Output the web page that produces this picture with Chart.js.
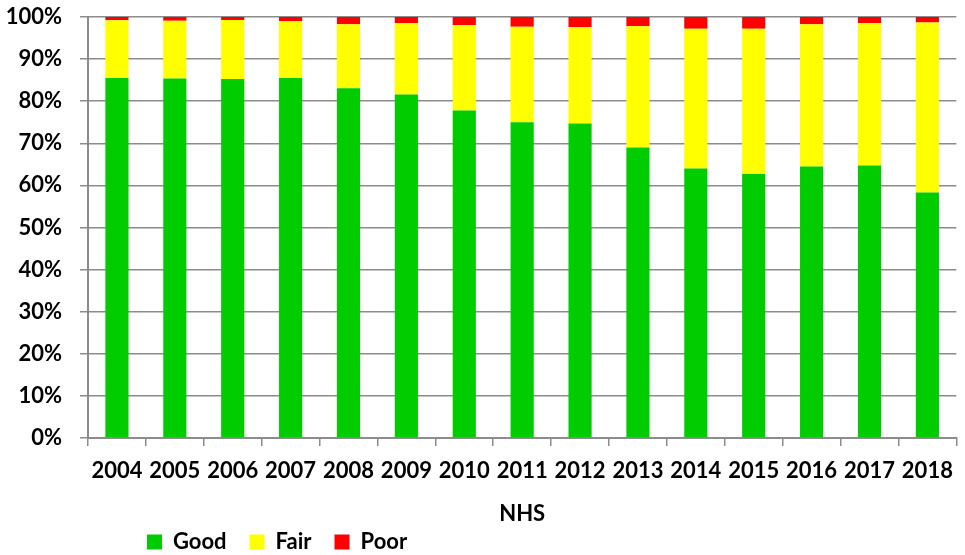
<!DOCTYPE html>
<html>
<head>
<meta charset="utf-8">
<script src="https://cdn.jsdelivr.net/npm/chart.js@4/dist/chart.umd.min.js"></script>
<style>
  html, body { margin: 0; padding: 0; background: #fff; }
  #wrap { width: 965px; height: 555px; }
</style>
</head>
<body>
<div id="wrap"><canvas id="nhsChart" width="965" height="555"></canvas></div>
<script>
// Condition shares per survey year (percent)
const years = ['2004', '2005', '2006', '2007', '2008', '2009', '2010', '2011', '2012', '2013', '2014', '2015', '2016', '2017', '2018'];
const good = [85.5, 85.4, 85.3, 85.5, 83.1, 81.6, 77.8, 75.0, 74.7, 69.0, 64.0, 62.7, 64.5, 64.7, 58.3];
const fair = [13.7, 13.7, 14.0, 13.5, 15.2, 16.9, 20.3, 22.7, 22.9, 28.8, 33.2, 34.5, 33.8, 33.9, 40.4];
const poor = [0.8, 0.9, 0.7, 1.0, 1.7, 1.5, 1.9, 2.3, 2.4, 2.2, 2.8, 2.8, 1.7, 1.4, 1.3];
const yTicks = [0, 10, 20, 30, 40, 50, 60, 70, 80, 90, 100];

const font = { family: 'Lato, "Open Sans", sans-serif', size: 22, weight: 'bold' };
const gridGray = '#8c8c8c';

// move legend to the left like the original
const legendShift = {
    id: 'legendShift',
    afterLayout(chart) {
        const lg = chart.legend;
        if (!lg) return;
        const w = lg.right - lg.left;
        lg.left = 124;
        lg.right = lg.left + w;
        const h = lg.bottom - lg.top;
        lg.top = 508;
        lg.bottom = lg.top + h;
    }
};

const ctx = document.getElementById('nhsChart').getContext('2d');
new Chart(ctx, {
    type: 'bar',
    data: {
        labels: years,
        datasets: [
            { label: 'Good', data: good, backgroundColor: '#00cc00', barPercentage: 0.8, categoryPercentage: 0.5 },
            { label: 'Fair', data: fair, backgroundColor: '#ffff00', barPercentage: 0.8, categoryPercentage: 0.5 },
            { label: 'Poor', data: poor, backgroundColor: '#ff0000', barPercentage: 0.8, categoryPercentage: 0.5 }
        ]
    },
    options: {
        responsive: false,
        animation: false,
        layout: { padding: { top: 17, right: 3, left: 0, bottom: 0 } },
        plugins: {
            tooltip: { enabled: false },
            legend: {
                position: 'bottom',
                align: 'start',
                labels: {
                    color: '#000',
                    font: font,
                    boxWidth: 15,
                    boxHeight: 15,
                    padding: 23
                }
            }
        },
        scales: {
            x: {
                stacked: true,
                grid: { display: true, drawOnChartArea: false, drawTicks: true, tickLength: 8, color: gridGray, lineWidth: 1.5, offset: true },
                border: { color: gridGray, width: 2 },
                ticks: { color: '#000', font: font, padding: 12, maxRotation: 0, autoSkip: false },
                title: { display: true, text: 'NHS', color: '#000', font: font, padding: { top: 0, bottom: -27 } },
                afterFit(scale) { scale.height = 62; }
            },
            y: {
                stacked: true,
                min: 0,
                max: 100,
                afterBuildTicks(scale) { scale.ticks = yTicks.map(v => ({ value: v })); },
                grid: { color: gridGray, lineWidth: 1.5, tickLength: 8 },
                border: { color: gridGray, width: 2 },
                ticks: { color: '#000', font: font, padding: 18, callback: v => v + '%' },
                afterFit(scale) {
                    scale.width = 88;
                    scale.paddingTop = 0;
                    scale.paddingBottom = 0;
                }
            }
        }
    },
    plugins: [legendShift]
});
</script>
</body>
</html>
